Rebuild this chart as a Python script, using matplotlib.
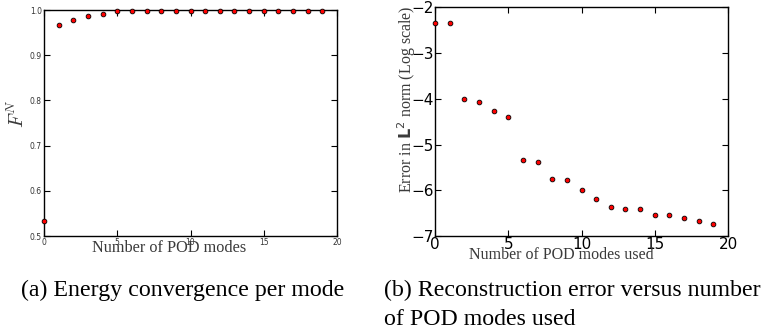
import matplotlib

matplotlib.use("Agg")

import matplotlib.pyplot as plt  # noqa: E402
import numpy as np  # noqa: E402

# Mode index 0..19
modes = np.arange(20)

# Cumulative energy fraction F^N per mode (panel a)
energy = [0.533, 0.966, 0.977, 0.986, 0.992, 0.997, 0.998, 0.998, 0.999, 0.999,
          0.999, 0.999, 0.999, 0.999, 0.999, 0.999, 0.999, 0.999, 0.999, 0.999]

# log10 of the L2 reconstruction error (panel b)
log_error = [-2.34, -2.35, -4.00, -4.06, -4.27, -4.39, -5.33, -5.39, -5.76, -5.78,
             -5.99, -6.18, -6.36, -6.41, -6.42, -6.53, -6.53, -6.61, -6.67, -6.74]

SERIF = ["Liberation Serif", "DejaVu Serif"]
LABEL_COLOR = "#3a3a3a"

fig = plt.figure(figsize=(7.68, 3.35), dpi=100)

ax1 = fig.add_axes([0.0573, 0.2955, 0.3815, 0.6745])
ax2 = fig.add_axes([0.5664, 0.2955, 0.3816, 0.6825])

for ax in (ax1, ax2):
    ax.tick_params(direction="in", top=True, right=True, length=4, width=0.8)
    for sp in ax.spines.values():
        sp.set_linewidth(1.0)

# panel a
ax1.plot(modes, energy, "o", color="red", mec="black", mew=0.6, ms=3.4,
         clip_on=False, zorder=3)
ax1.set_xlim(0, 20)
ax1.set_ylim(0.5, 1.0)
ax1.set_xticks([0, 5, 10, 15, 20])
ax1.set_yticks([0.5, 0.6, 0.7, 0.8, 0.9, 1.0])
ax1.tick_params(labelsize=5.5, pad=1.5, labelcolor="#333333")
ax1.set_xlabel("Number of POD modes", family=SERIF, fontsize=11.7,
               color=LABEL_COLOR, va="center")
ax1.xaxis.set_label_coords(0.427, -0.052)
ax1.set_ylabel("$F^N$", fontsize=14, color=LABEL_COLOR, math_fontfamily="cm",
               va="center")
ax1.yaxis.set_label_coords(-0.092, 0.54)

# panel b
ax2.plot(modes, log_error, "o", color="red", mec="black", mew=0.6, ms=3.4,
         clip_on=False, zorder=3)
ax2.set_xlim(0, 20)
ax2.set_ylim(-7, -2)
ax2.set_xticks([0, 5, 10, 15, 20])
ax2.set_yticks([-7, -6, -5, -4, -3, -2])
ax2.tick_params(labelsize=11, pad=1)
ax2.set_xlabel("Number of POD modes used", family=SERIF, fontsize=11.5,
               color=LABEL_COLOR, va="center")
ax2.xaxis.set_label_coords(0.43, -0.083)
ax2.set_ylabel(r"Error in $\mathbf{L}^2$ norm (Log scale)", family=SERIF,
               fontsize=11.5, color=LABEL_COLOR, va="center")
ax2.yaxis.set_label_coords(-0.097, 0.60)

# sub-figure captions
fig.text(0.027, 0.134, "(a) Energy convergence per mode", family=SERIF,
         fontsize=17.2, va="center", ha="left")
fig.text(0.500, 0.134, "(b) Reconstruction error versus number", family=SERIF,
         fontsize=17.2, va="center", ha="left")
fig.text(0.500, 0.045, "of POD modes used", family=SERIF,
         fontsize=17.2, va="center", ha="left")

fig.savefig("out.png", dpi=100)
